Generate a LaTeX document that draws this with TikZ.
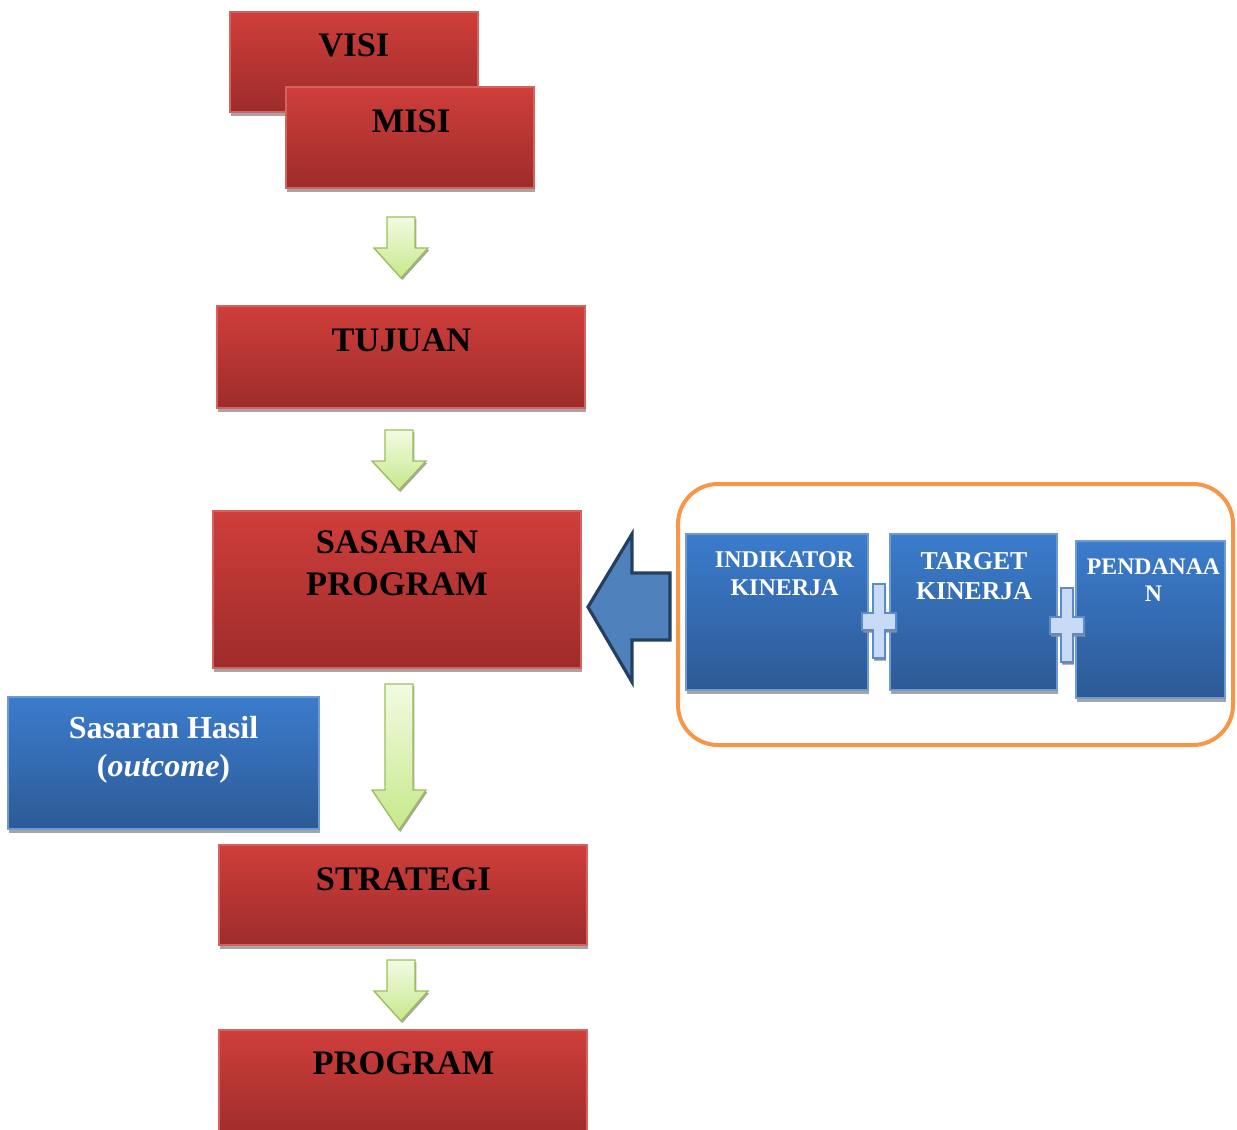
\documentclass[tikz,border=0pt]{standalone}
\usepackage{fontspec}
\setmainfont{Liberation Serif}
\usetikzlibrary{shadows}
\definecolor{redTop}{RGB}{207,62,59}
\definecolor{redBot}{RGB}{158,44,42}
\definecolor{redLine}{RGB}{212,98,95}
\definecolor{blueTop}{RGB}{59,124,204}
\definecolor{blueBot}{RGB}{45,90,150}
\definecolor{blueLine}{RGB}{110,155,212}
\definecolor{greenTop}{RGB}{242,251,226}
\definecolor{greenBot}{RGB}{198,232,138}
\definecolor{greenLine}{RGB}{155,190,90}
\definecolor{orangeLine}{RGB}{247,150,70}
\definecolor{bigFill}{RGB}{79,129,189}
\definecolor{bigLine}{RGB}{36,63,96}
\definecolor{plusFill}{RGB}{200,218,245}
\definecolor{plusLine}{RGB}{90,140,205}
\definecolor{shadowGray}{RGB}{165,165,165}
\newcommand\mkbox[6]{\node[#6, minimum width={(#4-#2)*0.75pt}, minimum height={(#5-#3)*0.75pt}] (#1) at ({(#2+#4)/2},{(#3+#5)/2}) {};}
\newcommand\greendown[5]{% x, top, headstart, tip, name
  \path[greenarrow] ({#1-14},#2) -- ({#1+14},#2) -- ({#1+14},#3) -- ({#1+27},#3) -- (#1,#4) -- ({#1-27},#3) -- ({#1-14},#3) -- cycle;
  \coordinate (#5) at (#1,#4);}
\newcommand\plussign[3]{% cx, cy, name
  \path[plusshape] ({#1-6},{#2-37}) -- ({#1+6},{#2-37}) -- ({#1+6},{#2-8}) -- ({#1+17},{#2-8}) -- ({#1+17},{#2+9}) -- ({#1+6},{#2+9}) -- ({#1+6},{#2+37}) -- ({#1-6},{#2+37}) -- ({#1-6},{#2+9}) -- ({#1-17},{#2+9}) -- ({#1-17},{#2-8}) -- ({#1-6},{#2-8}) -- cycle;
  \coordinate (#3) at (#1,#2);}
\tikzset{
  redbox/.style={rectangle, draw=redLine, line width=0.8pt, top color=redTop, bottom color=redBot, inner sep=0pt,
    drop shadow={shadow xshift=0.8pt, shadow yshift=-3pt, fill=shadowGray, opacity=1}},
  bluebox/.style={rectangle, draw=blueLine, line width=0.8pt, top color=blueTop, bottom color=blueBot, inner sep=0pt,
    drop shadow={shadow xshift=0.8pt, shadow yshift=-3pt, fill=shadowGray, opacity=1}},
  redtext/.style={anchor=north, inner sep=0pt, align=center, text=black, font=\fontsize{25.8}{31.5}\selectfont\bfseries},
  bluetext/.style={anchor=north, inner sep=0pt, align=center, text=white},
  greenarrow/.style={draw=greenLine, line width=1pt, top color=greenTop, bottom color=greenBot,
    drop shadow={shadow xshift=1pt, shadow yshift=-1.5pt, fill=shadowGray, opacity=1}},
  plusshape/.style={draw=plusLine, line width=0.8pt, fill=plusFill,
    drop shadow={shadow xshift=0.8pt, shadow yshift=-2pt, fill=black!45, opacity=1}},
}
\begin{document}
\begin{tikzpicture}[x=0.75pt,y=-0.75pt]
\useasboundingbox (0,0) rectangle (1237,1130);

% red boxes
\mkbox{visi}{230}{12}{478}{112}{redbox}
\node[redtext] (visiT) at (354,33.5) {VISI};
\mkbox{misi}{286}{87}{534}{188}{redbox}
\node[redtext] (misiT) at (411,109.5) {MISI};
\mkbox{tujuan}{217}{306}{585}{408}{redbox}
\node[redtext] (tujuanT) at (401.5,328.5) {TUJUAN};
\mkbox{sasaran}{213}{511}{581}{668}{redbox}
\node[redtext] (sasaranT) at (397,530.5) {SASARAN\\PROGRAM};
\mkbox{strategi}{219}{845}{587}{945}{redbox}
\node[redtext] (strategiT) at (403.5,867.5) {STRATEGI};
\mkbox{program}{219}{1030}{587}{1140}{redbox}
\node[redtext] (programT) at (403.5,1051.5) {PROGRAM};

% outcome box
\mkbox{hasil}{8}{697}{319}{829}{bluebox}
\node[bluetext, font=\fontsize{24}{28.5}\selectfont\bfseries] (hasilT) at (163.5,716) {Sasaran Hasil\\(\textit{outcome})};

% green arrows
\greendown{401}{217}{248}{278}{g1}
\greendown{399}{430}{461}{490}{g2}
\greendown{399}{684}{790}{830}{g3}
\greendown{401}{960}{991}{1021}{g4}

% orange group
\mkbox{group}{678}{484}{1233}{745}{draw=orangeLine, line width=3pt, rounded corners=30pt}
\mkbox{indikator}{686}{534}{868}{690}{bluebox}
\node[bluetext, font=\fontsize{18}{21}\selectfont\bfseries] (indikatorT) at (784.5,551.5) {INDIKATOR\\KINERJA};
\mkbox{target}{890}{534}{1057}{690}{bluebox}
\node[bluetext, font=\fontsize{19.3}{22.5}\selectfont\bfseries] (targetT) at (974,552.5) {TARGET\\KINERJA};
\mkbox{dana}{1076}{541}{1225}{698}{bluebox}
\node[bluetext, font=\fontsize{17.8}{20.5}\selectfont\bfseries] (danaT) at (1153.5,558.5) {PENDANAA\\N};

\plussign{879}{621}{p1}
\plussign{1067}{625}{p2}

% big left arrow
\path[fill=bigFill, draw=bigLine, line width=2.4pt, line join=miter]
  (588,607) -- (632,534) -- (632,573) -- (670,573) -- (670,640) -- (632,640) -- (632,682) -- cycle;
\end{tikzpicture}
\end{document}
